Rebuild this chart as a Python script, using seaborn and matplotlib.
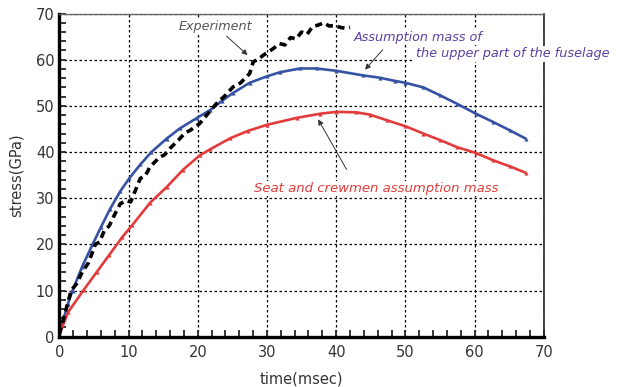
import numpy as np
import pandas as pd
import seaborn as sns
import matplotlib.pyplot as plt
from matplotlib.ticker import MultipleLocator

exp_t = [0, 0.8, 1.7, 2.5, 3.3, 4.2, 5.2, 5.8, 6.5, 7.2, 8.0, 8.8, 9.7, 10.3,
         11.7, 12.4, 13.1, 14.5, 15.2, 16.0, 17.4, 18.2, 18.9, 20.3, 21.4, 22.7,
         23.8, 25.1, 26.2, 27.5, 28.0, 28.8, 29.5, 30.3, 31.0, 31.8, 32.6, 33.4,
         34.2, 35.0, 35.8, 36.6, 37.4, 38.2, 39.0, 39.8, 40.6, 41.4, 42.0]
exp_s = [0.5, 5.0, 10.0, 11.5, 14.0, 16.0, 20.0, 20.5, 23.0, 24.0, 26.5, 28.8,
         29.5, 29.2, 34.3, 34.8, 36.8, 38.9, 39.4, 40.8, 42.9, 44.2, 44.7, 46.2,
         48.2, 50.5, 52.0, 54.1, 55.0, 57.0, 59.5, 60.2, 61.0, 61.8, 62.5, 63.5,
         63.2, 64.8, 64.5, 66.0, 65.5, 67.2, 67.5, 68.0, 67.3, 67.4, 67.0, 66.8,
         67.0]

# simulation: mass of upper fuselage
upper_t = [0, 0.6, 1.2, 1.9, 3.3, 4.8, 6.0, 7.3, 8.8, 10.1, 11.7, 13.3, 15.5, 17.4,
           19.9, 21.8, 23.5, 25.1, 27.5, 30, 31.9, 34.8, 37.2, 40, 43.9, 46.3,
           48.5, 50, 52.6, 55, 57.4, 60.2, 62.7, 65.1, 67.4]
upper_s = [0.5, 3.8, 7.0, 10.0, 15.2, 20.0, 23.7, 27.6, 31.5, 34.3, 37.3, 40.0,
           42.9, 45.1, 47.4, 49.1, 51.1, 52.8, 55.0, 56.4, 57.3, 58.1, 58.1, 57.6,
           56.6, 56.1, 55.4, 55.0, 54.0, 52.3, 50.5, 48.3, 46.5, 44.7, 42.9]

# simulation: seat and crewmen mass
seat_t = [0, 1.3, 3.5, 5.4, 7.2, 9.1, 10.5, 13.1, 15.5, 17.9, 20.3, 21.8, 24.7,
          27.3, 30, 34.3, 37.7, 40, 42.9, 44.9, 47.3, 50, 52.6, 55, 57.4, 60.2,
          62.7, 65.1, 67.4]
seat_s = [0.5, 5.4, 10.1, 14.0, 17.7, 21.6, 24.1, 29.0, 32.4, 36.2, 39.3, 40.6,
          43.0, 44.6, 45.9, 47.4, 48.3, 48.7, 48.6, 48.1, 46.9, 45.6, 44.0, 42.6,
          41.1, 39.8, 38.2, 36.9, 35.5]

sns.set_style("white")
plt.rcParams['font.family'] = ['DejaVu Sans']

fig = plt.figure(figsize=(6.25, 3.87), dpi=100)
ax = fig.add_axes([0.095, 0.13, 0.775, 0.835])

blue = "#3552a3"
red = "#e23b3b"

sns.lineplot(x=upper_t, y=upper_s, ax=ax, color=blue, lw=1.9, marker="^",
             markersize=3, markeredgewidth=0, sort=False)
sns.lineplot(x=seat_t, y=seat_s, ax=ax, color=red, lw=1.9, marker="^",
             markersize=3, markeredgewidth=0, sort=False)
sns.lineplot(x=exp_t, y=exp_s, ax=ax, color="black", lw=2.6, sort=False,
             dashes=False, linestyle=(0, (2.0, 1.3)))

ax.set_xlim(0, 70)
ax.set_ylim(0, 70)
ax.xaxis.set_major_locator(MultipleLocator(10))
ax.yaxis.set_major_locator(MultipleLocator(10))
ax.xaxis.set_minor_locator(MultipleLocator(2))
ax.yaxis.set_minor_locator(MultipleLocator(2))
ax.grid(True, which="major", color="black", linestyle=(0, (2, 2)), lw=0.9)
ax.set_axisbelow(True)

ax.tick_params(which="both", direction="in", length=5, width=1.3,
               left=True, bottom=True, top=False, right=False,
               labelsize=10.5, labelcolor="#333333")
ax.tick_params(axis="x", pad=6)
for side in ["left", "bottom"]:
    ax.spines[side].set_linewidth(2.4)
    ax.spines[side].set_color("black")
ax.spines["right"].set_linewidth(1.2)
ax.spines["right"].set_color("#222222")
ax.spines["top"].set_linewidth(1.0)
ax.spines["top"].set_color("#666666")

ax.set_xlabel("time(msec)", fontsize=10.5, color="#333333", labelpad=8)
ax.set_ylabel("stress(GPa)", fontsize=10.5, color="#333333", labelpad=9)

box = dict(facecolor="white", edgecolor="none", pad=1)
arrow = dict(arrowstyle="-|>", color="#333333", lw=0.7, mutation_scale=8)

ax.annotate("Experiment", xy=(27.5, 60.6), xytext=(22.6, 67.2),
            fontsize=9.2, style="italic", color="#555555", ha="center", va="center",
            bbox=box, arrowprops=arrow)
ax.annotate("", xy=(43.9, 57.4), xytext=(47.0, 62.6), arrowprops=arrow)
ax.text(42.6, 64.8, "Assumption mass of", fontsize=9.2, style="italic",
        color="#5b3fa3", ha="left", va="center", bbox=box)
ax.text(51.5, 61.3, "the upper part of the fuselage", fontsize=9.3, style="italic",
        color="#5b3fa3", ha="left", va="center", bbox=box, clip_on=False)
ax.annotate("Seat and crewmen assumption mass", xy=(37.2, 47.6), xytext=(45.8, 32.1),
            fontsize=9.5, style="italic", color=red, ha="center", va="center",
            bbox=box)
ax.annotate("", xy=(37.2, 47.6), xytext=(41.7, 35.7), arrowprops=arrow)

fig.savefig("out.png", dpi=100)
